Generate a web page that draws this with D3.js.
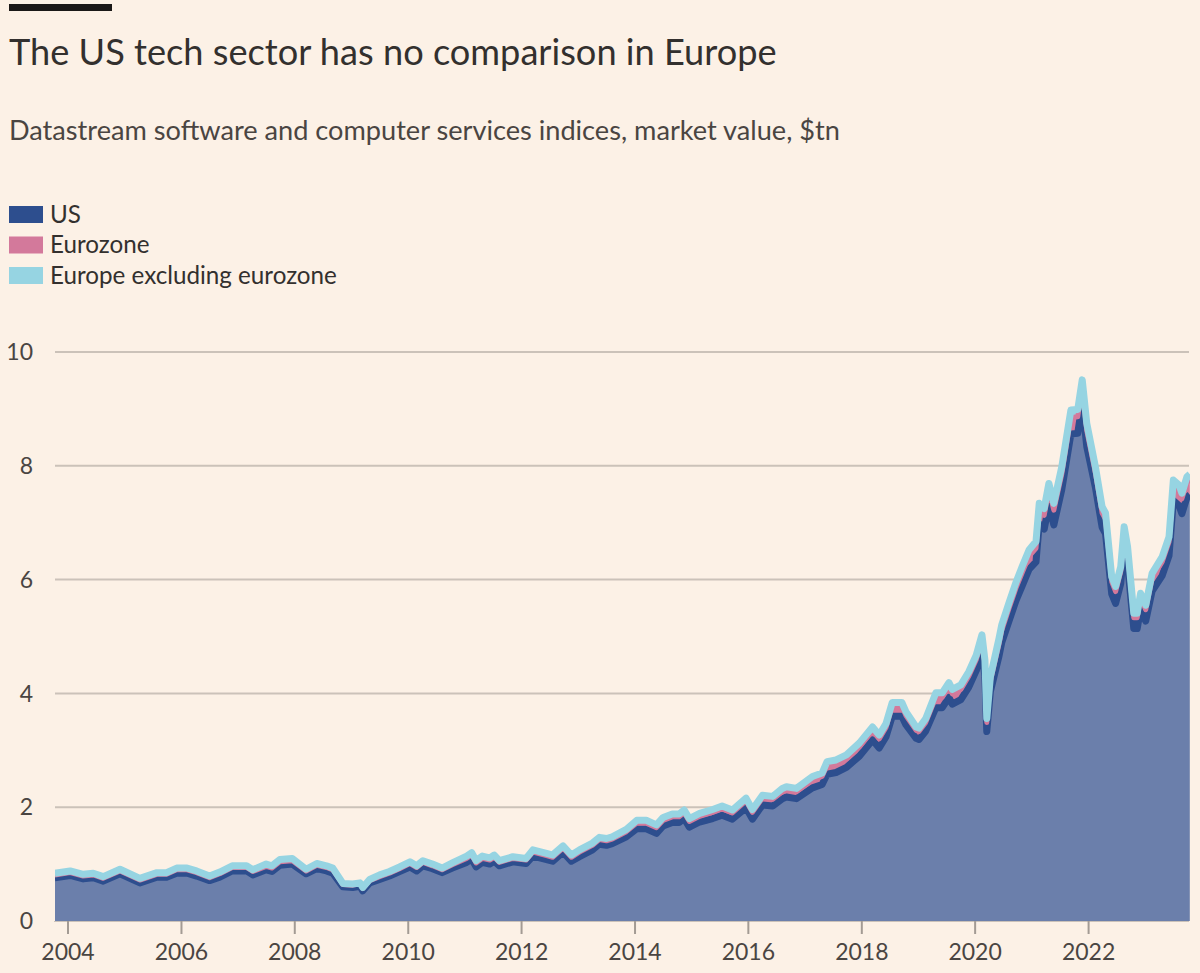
<!DOCTYPE html>
<html>
<head>
<meta charset="utf-8">
<script src="https://cdn.jsdelivr.net/npm/d3@7"></script>
<style>
  body { margin: 0; background: #fcf1e6; }
  svg { display: block; }
  text { font-family: Lato, "Noto Sans", sans-serif; }
</style>
</head>
<body>
<div id="chart"></div>
<script>
// Datastream software & computer services indices, market value ($tn)
const dates = [
  "2003-10-08","2004-01-15","2004-04-08","2004-06-12","2004-08-15","2004-12-01",
  "2005-04-08","2005-07-27","2005-09-27","2005-12-01",
  "2006-02-06","2006-04-08","2006-07-01","2006-09-05","2006-11-24",
  "2007-02-24","2007-04-05","2007-07-01","2007-08-07","2007-09-27","2007-12-16",
  "2008-03-14","2008-05-22","2008-07-23","2008-09-02","2008-11-06",
  "2009-01-08","2009-02-24","2009-03-14","2009-04-27","2009-07-01","2009-09-02","2009-11-06",
  "2010-01-12","2010-02-24","2010-04-05","2010-06-06","2010-08-07","2010-10-12",
  "2011-01-12","2011-02-14","2011-03-14","2011-04-23","2011-06-10","2011-07-09","2011-08-11","2011-11-06",
  "2012-01-30","2012-03-14","2012-06-10","2012-07-19","2012-09-24","2012-11-17",
  "2013-01-08","2013-04-02","2013-05-16","2013-07-01","2013-08-07","2013-11-06",
  "2014-01-12","2014-03-14","2014-05-19","2014-07-01","2014-08-29","2014-10-12","2014-11-14","2014-12-17",
  "2015-02-21","2015-05-16","2015-07-16","2015-09-20","2015-12-17",
  "2016-01-27","2016-04-01","2016-06-06","2016-08-07","2016-09-02","2016-11-06",
  "2017-02-17","2017-04-20","2017-05-22","2017-07-19","2017-09-24","2017-12-17",
  "2018-03-11","2018-04-23","2018-06-06","2018-07-16","2018-09-16","2018-10-12","2018-12-17",
  "2019-01-04","2019-02-17","2019-04-23","2019-06-03","2019-07-16","2019-08-07","2019-10-01","2019-11-21",
  "2020-01-08","2020-02-14","2020-03-04","2020-03-16","2020-04-08","2020-06-03","2020-06-20","2020-08-07","2020-09-20","2020-10-30","2020-12-13",
  "2021-01-27","2021-02-17","2021-03-21","2021-04-20","2021-05-22","2021-07-12","2021-09-09","2021-10-23","2021-11-21","2021-12-20",
  "2022-02-14","2022-03-29","2022-04-20","2022-05-30","2022-06-24","2022-07-27","2022-08-18","2022-09-09","2022-10-19","2022-11-10","2022-12-02",
  "2023-01-04","2023-02-14","2023-04-20","2023-06-03","2023-07-01","2023-08-07","2023-08-25","2023-09-27","2023-10-15"
];

const us = [
  0.76,0.80,0.74,0.76,0.70,0.83,
  0.67,0.77,0.77,0.84,
  0.84,0.79,0.71,0.77,0.88,
  0.88,0.81,0.90,0.87,0.98,1.00,
  0.83,0.92,0.88,0.84,0.60,
  0.59,0.61,0.53,0.67,0.73,0.79,0.87,
  0.95,0.88,0.97,0.92,0.85,0.93,
  1.03,1.09,0.95,1.03,1.00,1.05,0.97,1.04,
  1.01,1.14,1.08,1.05,1.21,1.05,
  1.13,1.25,1.35,1.33,1.36,1.48,
  1.62,1.62,1.54,1.67,1.73,1.73,1.80,1.65,
  1.74,1.80,1.86,1.79,1.99,
  1.79,2.04,2.02,2.15,2.18,2.15,
  2.34,2.40,2.58,2.61,2.70,2.90,
  3.18,3.04,3.24,3.60,3.60,3.45,3.21,
  3.19,3.34,3.75,3.75,3.93,3.81,3.89,4.11,
  4.40,4.74,4.30,3.33,4.03,4.66,4.89,5.28,5.63,5.89,6.18,
  6.31,6.98,6.89,7.31,6.96,7.58,8.56,8.57,9.10,8.34,
  7.62,6.92,6.81,5.75,5.58,5.93,6.62,6.27,5.14,5.14,5.48,
  5.27,5.80,6.07,6.42,7.39,7.30,7.16,7.45,7.49
];

const eurozone = [
  0.05,0.05,0.05,0.05,0.05,0.05,
  0.05,0.05,0.05,0.06,
  0.06,0.06,0.05,0.06,0.06,
  0.06,0.06,0.06,0.06,0.06,0.06,
  0.05,0.06,0.06,0.06,0.04,
  0.04,0.04,0.04,0.04,0.05,0.05,0.05,
  0.06,0.06,0.06,0.05,0.05,0.06,
  0.07,0.07,0.07,0.07,0.07,0.07,0.06,0.06,
  0.06,0.07,0.07,0.07,0.07,0.07,
  0.08,0.08,0.08,0.08,0.08,0.09,
  0.10,0.10,0.10,0.10,0.10,0.10,0.10,0.10,
  0.10,0.11,0.11,0.11,0.12,
  0.12,0.12,0.12,0.12,0.12,0.12,
  0.14,0.14,0.15,0.15,0.15,0.16,
  0.16,0.16,0.16,0.17,0.17,0.16,0.14,
  0.14,0.15,0.18,0.18,0.18,0.18,0.18,0.19,
  0.19,0.20,0.20,0.16,0.18,0.21,0.21,0.22,0.22,0.23,0.23,
  0.24,0.24,0.24,0.26,0.26,0.27,0.29,0.29,0.28,0.28,
  0.25,0.25,0.25,0.21,0.21,0.21,0.22,0.22,0.19,0.19,0.20,
  0.20,0.22,0.24,0.24,0.26,0.26,0.26,0.26,0.26
];

const europeExEurozone = [
  0.03,0.03,0.03,0.03,0.03,0.03,
  0.03,0.03,0.03,0.03,
  0.03,0.03,0.03,0.03,0.03,
  0.03,0.03,0.04,0.04,0.04,0.04,
  0.03,0.03,0.03,0.03,0.02,
  0.02,0.02,0.02,0.02,0.03,0.03,0.03,
  0.03,0.03,0.03,0.03,0.03,0.03,
  0.04,0.04,0.04,0.04,0.04,0.04,0.03,0.03,
  0.03,0.04,0.04,0.04,0.04,0.04,
  0.04,0.04,0.04,0.04,0.04,0.04,
  0.05,0.05,0.05,0.05,0.05,0.05,0.05,0.05,
  0.05,0.05,0.05,0.05,0.05,
  0.05,0.05,0.05,0.06,0.06,0.06,
  0.06,0.06,0.07,0.07,0.07,0.07,
  0.07,0.07,0.07,0.07,0.07,0.07,0.06,
  0.06,0.07,0.08,0.08,0.08,0.08,0.08,0.08,
  0.08,0.09,0.09,0.07,0.08,0.10,0.10,0.10,0.10,0.11,0.11,
  0.12,0.12,0.12,0.12,0.12,0.13,0.13,0.13,0.13,0.13,
  0.11,0.11,0.11,0.09,0.09,0.09,0.09,0.09,0.08,0.08,0.08,
  0.08,0.09,0.09,0.09,0.10,0.10,0.10,0.10,0.10
];

const seriesNames = ["US", "Eurozone", "Europe excluding eurozone"];
const seriesColors = ["#2d4e8e", "#d3799b", "#96d4e2"];
const yTicks = [0, 2, 4, 6, 8, 10];
const xTickYears = [2004, 2006, 2008, 2010, 2012, 2014, 2016, 2018, 2020, 2022];

const titleText = "The US tech sector has no comparison in Europe";
const subtitleText = "Datastream software and computer services indices, market value, $tn";

const width = 1200, height = 973;
const bg = "#fcf1e6";
const parseDate = d3.timeParse("%Y-%m-%d");

const rows = dates.map((d, i) => ({
  date: parseDate(d),
  us: us[i],
  eurozone: eurozone[i],
  exez: europeExEurozone[i]
}));

const svg = d3.select("#chart").append("svg")
  .attr("width", width)
  .attr("height", height)
  .style("background", bg);

// shrink or grow a text node so it spans the wanted width
function fitWidth(sel, target) {
  const w = sel.node().getComputedTextLength();
  const fs = parseFloat(sel.attr("font-size"));
  sel.attr("font-size", (fs * target / w).toFixed(2));
}

// header
svg.append("rect")
  .attr("x", 9).attr("y", 4)
  .attr("width", 103).attr("height", 7)
  .attr("fill", "#1a1817");

const title = svg.append("text")
  .attr("x", 9).attr("y", 65)
  .attr("font-size", 33)
  .attr("fill", "#33302e")
  .text(titleText);
fitWidth(title, 768);

const subtitle = svg.append("text")
  .attr("x", 9).attr("y", 140)
  .attr("font-size", 24)
  .attr("fill", "#4a4542")
  .text(subtitleText);
fitWidth(subtitle, 831);

// legend
const legend = svg.append("g").attr("transform", "translate(9, 206)");
const legendRows = legend.selectAll("g")
  .data(seriesNames)
  .enter()
  .append("g")
  .attr("transform", (d, i) => `translate(0, ${i * 30.5})`);

legendRows.append("rect")
  .attr("width", 34).attr("height", 17)
  .attr("fill", (d, i) => seriesColors[i]);

const legendText = legendRows.append("text")
  .attr("x", 41).attr("y", 16.5)
  .attr("font-size", 22)
  .attr("fill", "#33302e")
  .text(d => d);
const longest = legendText.filter((d, i) => i === 2);
fitWidth(longest, 287);
legendText.attr("font-size", longest.attr("font-size"));

// scales
const x = d3.scaleTime()
  .domain([new Date(2004, 0, 1), new Date(2022, 0, 1)])
  .range([68, 1088.6]);

const y = d3.scaleLinear()
  .domain([0, 10])
  .range([921, 352]);

// gridlines
svg.append("g")
  .selectAll("line")
  .data(yTicks)
  .enter()
  .append("line")
  .attr("x1", 54).attr("x2", 1189)
  .attr("y1", d => y(d)).attr("y2", d => y(d))
  .attr("stroke", "#cbc2b9")
  .attr("stroke-width", 2);

// stacked series
const topUs = d => y(d.us);
const topEz = d => y(d.us + d.eurozone);
const topAll = d => y(d.us + d.eurozone + d.exez);

const plot = svg.append("g");

plot.append("path")
  .datum(rows)
  .attr("d", d3.area().x(d => x(d.date)).y0(y(0)).y1(topUs))
  .attr("fill", "#6b7fab");

plot.append("path")
  .datum(rows)
  .attr("d", d3.area().x(d => x(d.date)).y0(topUs).y1(topEz))
  .attr("fill", seriesColors[1]);

plot.append("path")
  .datum(rows)
  .attr("d", d3.area().x(d => x(d.date)).y0(topEz).y1(topAll))
  .attr("fill", seriesColors[2]);

// bottom layer first, so each band's line sits over the one below it
const lineWidths = [7, 5, 7];
[topUs, topEz, topAll].forEach((fn, i) => {
  plot.append("path")
    .datum(rows)
    .attr("d", d3.line().x(d => x(d.date)).y(fn))
    .attr("fill", "none")
    .attr("stroke", seriesColors[i])
    .attr("stroke-width", lineWidths[i])
    .attr("stroke-linejoin", "round")
    .attr("stroke-linecap", "butt");
});

// keep the strokes from spilling past the plot edges
svg.append("rect")
  .attr("x", 0).attr("y", 340).attr("width", 55).attr("height", 581)
  .attr("fill", bg);
svg.append("rect")
  .attr("x", 1190).attr("y", 340).attr("width", 10).attr("height", 581)
  .attr("fill", bg);

// y labels
svg.append("g")
  .selectAll("text")
  .data(yTicks)
  .enter()
  .append("text")
  .attr("x", 33)
  .attr("y", d => y(d))
  .attr("dy", "0.36em")
  .attr("text-anchor", "end")
  .attr("font-size", 23)
  .attr("fill", "#4a4542")
  .text(d => d);

// x axis ticks
const xAxis = svg.append("g");
xAxis.selectAll("line")
  .data(xTickYears)
  .enter()
  .append("line")
  .attr("x1", d => x(new Date(d, 0, 1)))
  .attr("x2", d => x(new Date(d, 0, 1)))
  .attr("y1", 921).attr("y2", 934)
  .attr("stroke", "#a39b94")
  .attr("stroke-width", 2);

xAxis.selectAll("text")
  .data(xTickYears)
  .enter()
  .append("text")
  .attr("x", d => x(new Date(d, 0, 1)))
  .attr("y", 960)
  .attr("text-anchor", "middle")
  .attr("font-size", 23)
  .attr("fill", "#4a4542")
  .text(d => d);
</script>
</body>
</html>
